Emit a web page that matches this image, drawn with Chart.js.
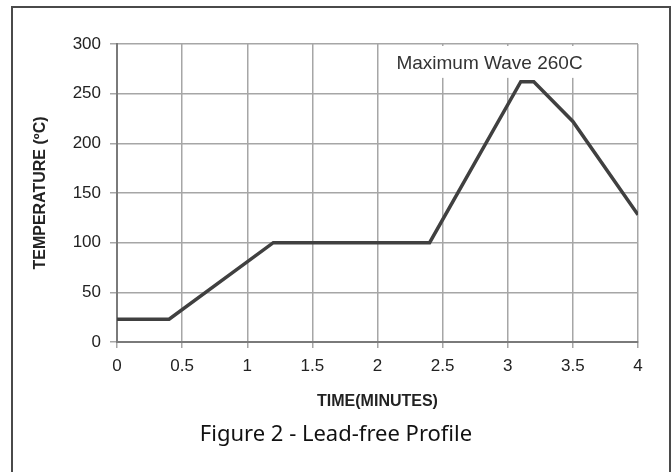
<!DOCTYPE html>
<html>
<head>
<meta charset="utf-8">
<script src="https://cdn.jsdelivr.net/npm/chart.js@4/dist/chart.umd.min.js"></script>
<style>
    html, body { margin: 0; padding: 0; background: #fff; }
    canvas { display: block; }
</style>
</head>
<body>
<canvas id="profileChart" width="672" height="472"></canvas>
<script>
const timeMinutes = [0, 0.4, 1.2, 2.4, 3.1, 3.2, 3.5, 4];
const temperatureC = [23, 23, 100, 100, 262, 262, 222, 128];
const xTickStep = 0.5;
const yTickStep = 50;
const peakNote = "Maximum Wave 260C";
const caption = "Figure 2 - Lead-free Profile";

// frame, note and caption drawn on the canvas
const extras = {
    id: "extras",
    beforeDatasetsDraw(chart) {
        const { ctx, scales } = chart;
        ctx.save();
        ctx.font = "19px 'Liberation Sans', Arial, sans-serif";
        const w = ctx.measureText(peakNote).width;
        const cx = scales.x.getPixelForValue(2.86);
        const cy = scales.y.getPixelForValue(280);
        ctx.fillStyle = "#fff";
        ctx.fillRect(cx - w / 2 - 6, scales.y.top + 2, w + 12, cy - scales.y.top + 12);
        ctx.fillStyle = "#333";
        ctx.textAlign = "center";
        ctx.textBaseline = "middle";
        ctx.fillText(peakNote, cx, cy);
        ctx.restore();
    },
    afterDraw(chart) {
        const { ctx } = chart;
        ctx.save();
        ctx.strokeStyle = "#4a4a4a";
        ctx.lineWidth = 2;
        ctx.strokeRect(12, 7, 658, 480);
        ctx.fillStyle = "#111";
        ctx.font = "22px 'Noto Sans', 'Open Sans', sans-serif";
        ctx.textAlign = "center";
        ctx.textBaseline = "middle";
        ctx.fillText(caption, 336, 435);
        ctx.restore();
    },
};

new Chart(document.getElementById("profileChart"), {
    type: "line",
    data: {
        datasets: [{
            data: timeMinutes.map((t, i) => ({ x: t, y: temperatureC[i] })),
            borderColor: "#404040",
            borderWidth: 3.5,
            pointRadius: 0,
            tension: 0,
            fill: false,
        }],
    },
    options: {
        responsive: false,
        animation: false,
        layout: {
            padding: { left: 0, right: 34, top: 44, bottom: 0 },
        },
        plugins: {
            legend: { display: false },
            tooltip: { enabled: false },
        },
        scales: {
            x: {
                type: "linear",
                min: 0,
                max: 4,
                afterFit: (scale) => { scale.height = 130; },
                ticks: {
                    stepSize: xTickStep,
                    padding: 8,
                    color: "#222",
                    font: { family: "'Liberation Sans', Arial", size: 17 },
                    callback: (value) => String(value),
                },
                grid: { color: "#a6a6a6", lineWidth: 1.5, tickLength: 6 },
                border: { color: "#7a7a7a", width: 2 },
                title: {
                    display: true,
                    text: "TIME(MINUTES)",
                    color: "#222",
                    font: { family: "'Liberation Sans', Arial", size: 16, weight: "bold" },
                    padding: { top: 0, bottom: 61 },
                },
            },
            y: {
                min: 0,
                max: 300,
                afterFit: (scale) => { scale.width = 117; },
                ticks: {
                    stepSize: yTickStep,
                    padding: 9,
                    color: "#222",
                    font: { family: "'Liberation Sans', Arial", size: 17 },
                },
                grid: { color: "#a6a6a6", lineWidth: 1.5, tickLength: 7 },
                border: { color: "#7a7a7a", width: 2 },
                title: {
                    display: true,
                    text: "TEMPERATURE (ºC)",
                    color: "#222",
                    font: { family: "'Liberation Sans', Arial", size: 16, weight: "bold" },
                    padding: { top: 31, bottom: 0 },
                },
            },
        },
    },
    plugins: [extras],
});
</script>
</body>
</html>
